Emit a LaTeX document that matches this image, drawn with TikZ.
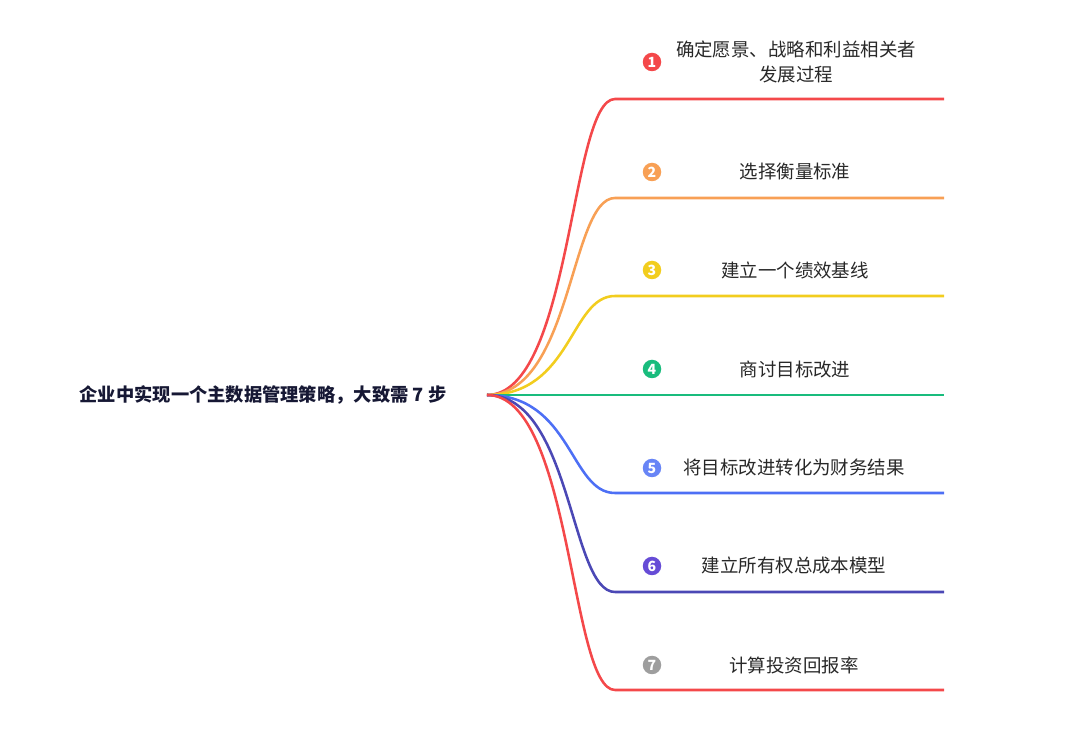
\documentclass[tikz,border=0pt]{standalone}
\usepackage{fontspec}
\setmainfont{Noto Sans CJK SC}
\usetikzlibrary{positioning}
\definecolor{titleink}{RGB}{22,24,52}
\definecolor{textink}{RGB}{40,40,40}
\definecolor{redline}{RGB}{244,72,74}
\definecolor{orangeline}{RGB}{248,160,85}
\definecolor{yellowline}{RGB}{242,205,30}
\definecolor{greenline}{RGB}{25,188,125}
\definecolor{blueline}{RGB}{77,111,245}
\definecolor{indigoline}{RGB}{75,72,181}
\definecolor{purplebadge}{RGB}{102,76,214}
\definecolor{graybadge}{RGB}{158,158,158}
\tikzset{
  title/.style={font=\bfseries\fontsize{10.4}{12}\selectfont,text=titleink},
  steptext/.style={font=\fontsize{10.5}{14}\selectfont,text=textink,align=center},
  badge/.style={circle,inner sep=0pt,minimum size=3.7mm,text=white,font=\bfseries\fontsize{8}{8}\selectfont},
  branch/.style={line width=1.45pt}
}
\begin{document}
\begin{tikzpicture}[x=0.02cm,y=-0.02cm]
  \useasboundingbox (0,0) rectangle (1080,736);
  \node[title] (goal) at (263,395) {企业中实现一个主数据管理策略，大致需 7 步};
  \coordinate (root) at (487,395);
  % branch ends
  \coordinate (b1) at (615,99);  \coordinate (e1) at (944,99);
  \coordinate (b2) at (615,198); \coordinate (e2) at (944,198);
  \coordinate (b3) at (615,296); \coordinate (e3) at (944,296);
  \coordinate (e4) at (944,395);
  \coordinate (b5) at (615,493); \coordinate (e5) at (944,493);
  \coordinate (b6) at (615,592); \coordinate (e6) at (944,592);
  \coordinate (b7) at (615,690); \coordinate (e7) at (944,690);
  \draw[branch,redline] (root) .. controls +(85,0) and +(-45,0) .. (b1) -- (e1);
  \draw[branch,orangeline] (root) .. controls +(85,0) and +(-45,0) .. (b2) -- (e2);
  \draw[branch,yellowline] (root) .. controls +(85,0) and +(-45,0) .. (b3) -- (e3);
  \draw[branch,greenline] (root) -- (e4);
  \draw[branch,blueline] (root) .. controls +(85,0) and +(-45,0) .. (b5) -- (e5);
  \draw[branch,indigoline] (root) .. controls +(85,0) and +(-45,0) .. (b6) -- (e6);
  \draw[branch,redline] (root) .. controls +(85,0) and +(-45,0) .. (b7) -- (e7);
  % labels
  \node[steptext] (vision) at (796,62) {确定愿景、战略和利益相关者\\发展过程};
  \node[badge,fill=redline] (n1) at (652,62) {1};
  \node[steptext] (metric) at (795,172) {选择衡量标准};
  \node[badge,fill=orangeline] (n2) at (652,172) {2};
  \node[steptext] (baseline) at (795,270) {建立一个绩效基线};
  \node[badge,fill=yellowline] (n3) at (652,270) {3};
  \node[steptext] (target) at (795,369) {商讨目标改进};
  \node[badge,fill=greenline] (n4) at (652,369) {4};
  \node[steptext] (finance) at (794,468) {将目标改进转化为财务结果};
  \node[badge,fill=blueline!85!white] (n5) at (652,468) {5};
  \node[steptext] (cost) at (794,566) {建立所有权总成本模型};
  \node[badge,fill=purplebadge] (n6) at (652,566) {6};
  \node[steptext] (roi) at (794,665) {计算投资回报率};
  \node[badge,fill=graybadge] (n7) at (652,665) {7};
\end{tikzpicture}
\end{document}
